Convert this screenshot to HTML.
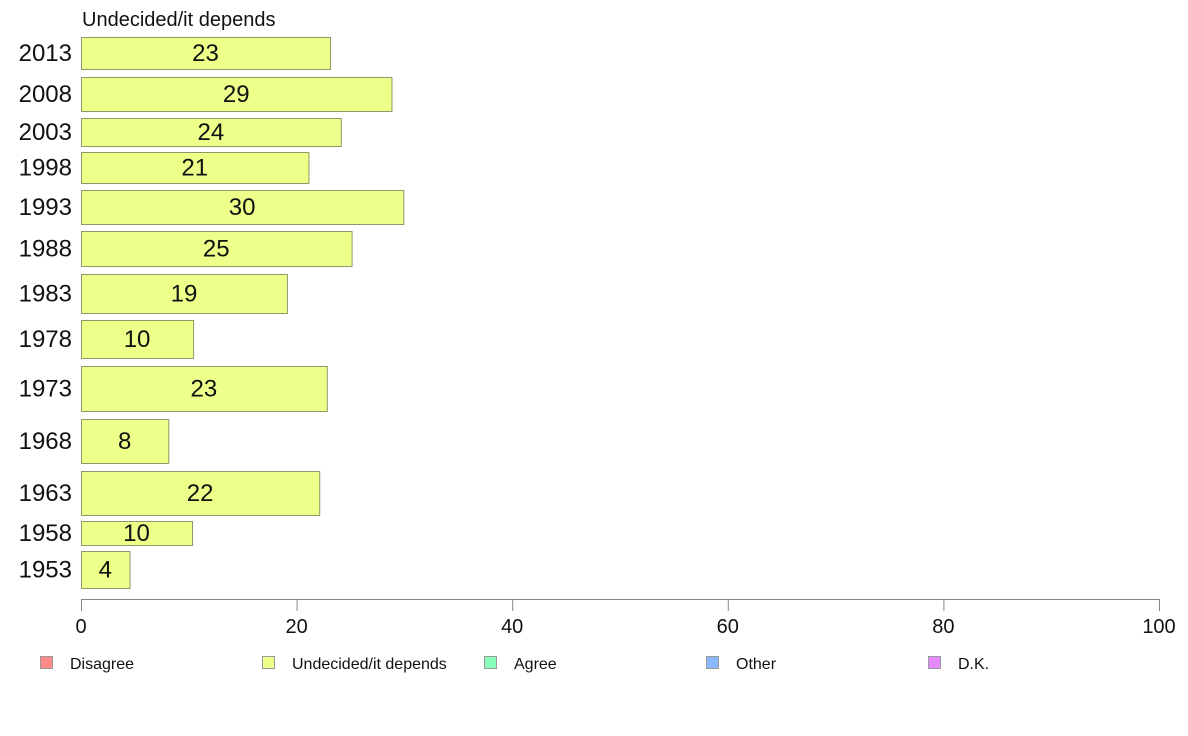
<!DOCTYPE html>
<html><head><meta charset="utf-8"><style>
body{margin:0;background:#fff;font-family:"Liberation Sans",sans-serif;}
svg{display:block}
</style></head><body>
<svg id="chart" width="1188" height="736">
<text x="82" y="26" font-size="20" fill="#111">Undecided/it depends</text>
<g id="bars"></g>
<g id="axis"></g>
<g id="legend"></g>
</svg>
<script>
const years=["2013","2008","2003","1998","1993","1988","1983","1978","1973","1968","1963","1958","1953"];
const values=[23.1,28.8,24.1,21.1,29.9,25.1,19.1,10.4,22.8,8.1,22.1,10.3,4.5];
const labels=["23","29","24","21","30","25","19","10","23","8","22","10","4"];
const ticks=[0,20,40,60,80,100];
const legendNames=["Disagree","Undecided/it depends","Agree","Other","D.K."];
const legendColors=["#ff8a8a","#eeff8a","#8affbb","#8ab8ff","#e88aff"];
// band layout (top,bottom) for each year row as in the figure
const bandTop=[37,77,118,152,190,231,274,320,366,419,471,521,551];
const bandBot=[69,111,146,183,224,266,313,358,411,463,515,545,588];
const NS="http://www.w3.org/2000/svg";
const x0=81,x1=1159;
const xs=v=>x0+(x1-x0)*v/100;
function mk(t,a){const e=document.createElementNS(NS,t);for(const k in a)e.setAttribute(k,a[k]);return e;}
const gb=document.getElementById('bars');
years.forEach((y,i)=>{
  const t=bandTop[i],b=bandBot[i],c=(t+b)/2;
  const r=mk('rect',{x:xs(0)+0.5,y:t+0.5,width:xs(values[i])-xs(0),height:b-t,fill:'#eeff8a',stroke:'#8a9a6a','stroke-width':1});
  
  
  gb.appendChild(r);
  const l=mk('text',{x:(xs(0)+xs(values[i]))/2,y:c+8,'font-size':24,'text-anchor':'middle',fill:'#111'});
  l.textContent=labels[i];
  
  
  gb.appendChild(l);
  const yl=mk('text',{x:72,y:c+8,'font-size':24,'text-anchor':'end',fill:'#111'});
  yl.textContent=y;
  
  
  gb.appendChild(yl);
});
const ga=document.getElementById('axis');
const al=mk('line',{x1:x0,x2:x1,y1:599.5,y2:599.5,stroke:'#888'});


ga.appendChild(al);
ticks.forEach(v=>{
  const tl=mk('line',{x1:xs(v)+0.5,x2:xs(v)+0.5,y1:599,y2:611,stroke:'#888'});
  
  
  ga.appendChild(tl);
  const tx=mk('text',{x:xs(v),y:633,'font-size':20,'text-anchor':'middle',fill:'#111'});
  tx.textContent=v;
  
  
  ga.appendChild(tx);
});
const gl=document.getElementById('legend');
legendNames.forEach((n,i)=>{
  const bx=40+i*222;
  const s=mk('rect',{x:bx+0.5,y:656.5,width:12,height:12,fill:legendColors[i],stroke:'#999'});
  
  
  gl.appendChild(s);
  const t=mk('text',{x:bx+30,y:669,'font-size':16,fill:'#111'});
  t.textContent=n;
  
  
  gl.appendChild(t);
});
</script>
</body></html>
